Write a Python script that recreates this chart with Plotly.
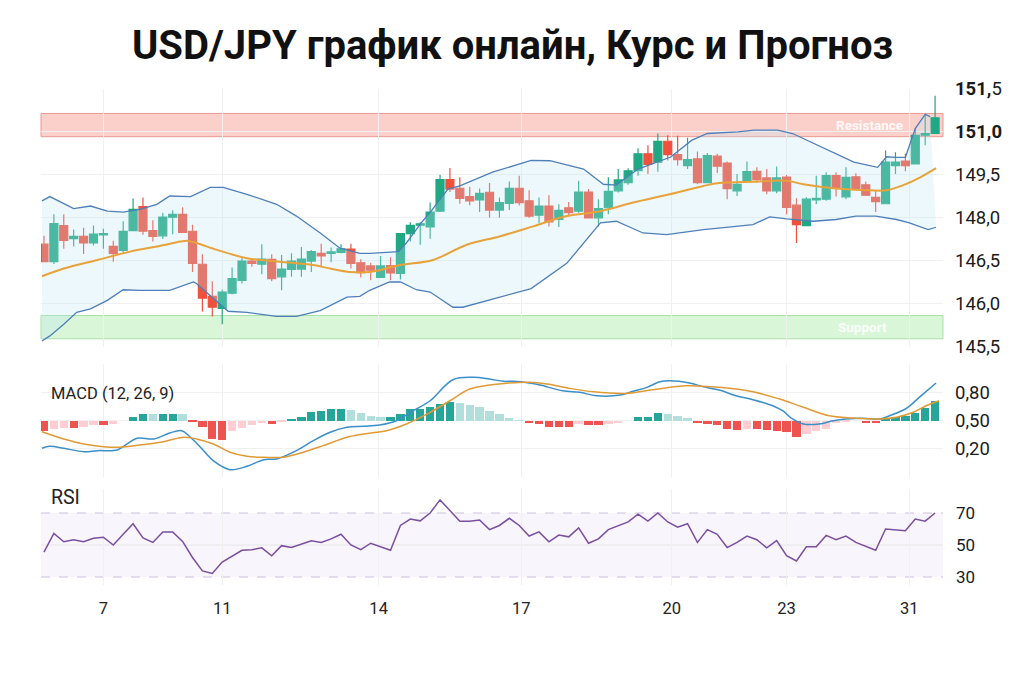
import plotly.graph_objects as go

TITLE = "USD/JPY график онлайн, Курс и Прогноз"

# ---------------- price candles (index 0..90) ----------------
opens = [147.07, 146.46, 147.72, 147.26, 147.34, 147.11, 147.39, 146.99, 146.85, 147.54,
         148.38, 147.54, 147.36, 148.01, 148.11, 147.52, 146.37, 145.25, 144.83, 145.36,
         145.81, 146.48, 146.37, 146.54, 145.93, 146.19, 146.20, 146.48, 146.75, 146.75,
         146.78, 146.90, 146.42, 146.31, 145.91, 146.32, 146.05, 147.44, 147.73, 147.67,
         148.22, 149.32, 149.02, 148.73, 148.61, 148.88, 148.26, 148.49, 149.02, 148.58,
         148.08, 148.40, 147.93, 148.34, 148.22, 148.89, 147.99, 148.34, 148.93, 149.22,
         149.63, 150.22, 149.93, 150.66, 150.19, 149.81, 150.05, 149.22, 150.14, 149.90,
         148.93, 149.26, 149.61, 149.38, 148.93, 149.41, 148.43, 147.72, 148.61, 148.64,
         149.46, 148.72, 149.42, 149.14, 148.70, 148.48, 149.81, 149.97, 149.87, 150.87,
         150.93]
highs = [147.36, 148.11, 148.11, 147.58, 147.64, 147.72, 147.61, 147.19, 147.87, 148.66,
         148.70, 147.90, 148.17, 148.25, 148.36, 147.75, 146.72, 145.78, 145.48, 146.26,
         146.60, 146.52, 147.07, 146.72, 146.69, 146.75, 146.97, 146.87, 147.08, 146.95,
         147.07, 147.08, 146.54, 146.42, 146.66, 146.61, 147.45, 147.83, 147.83, 148.52,
         149.49, 149.73, 149.40, 149.07, 149.01, 149.20, 148.70, 149.26, 149.46, 148.95,
         148.70, 148.78, 148.46, 148.54, 149.28, 148.99, 148.64, 149.40, 149.69, 149.72,
         150.42, 150.52, 150.93, 150.87, 150.85, 150.78, 150.30, 150.25, 150.22, 149.95,
         149.52, 149.95, 149.75, 149.69, 149.78, 149.48, 148.67, 148.71, 149.46, 149.58,
         149.58, 149.75, 149.54, 149.26, 148.95, 150.34, 150.28, 150.22, 151.11, 151.58,
         152.25]
lows = [146.44, 146.38, 146.91, 146.99, 146.73, 147.02, 146.91, 146.46, 146.78, 147.52,
        147.40, 147.16, 147.25, 147.42, 147.46, 146.10, 144.72, 144.55, 144.28, 145.31,
        145.70, 146.28, 146.02, 145.78, 145.46, 145.93, 145.93, 146.10, 146.28, 146.44,
        146.75, 146.22, 145.91, 145.81, 145.89, 145.81, 145.84, 147.16, 147.05, 147.26,
        148.19, 148.89, 148.48, 148.43, 148.19, 148.00, 147.99, 148.26, 148.42, 147.99,
        147.81, 147.69, 147.67, 148.05, 148.17, 147.97, 147.69, 148.11, 148.87, 149.14,
        149.46, 149.52, 149.60, 149.99, 149.81, 149.69, 149.16, 149.20, 149.55, 148.64,
        148.75, 149.24, 149.22, 148.81, 148.85, 148.11, 147.11, 147.70, 148.46, 148.58,
        148.73, 148.64, 148.95, 148.75, 148.19, 148.46, 149.52, 149.61, 149.85, 150.52,
        150.91]
closes = [146.46, 147.79, 147.20, 147.34, 147.11, 147.42, 147.44, 146.75, 147.52, 148.28,
          147.52, 147.34, 148.01, 148.11, 147.48, 146.40, 145.19, 144.87, 145.40, 145.87,
          146.48, 146.40, 146.55, 145.87, 146.20, 146.48, 146.55, 146.81, 146.66, 146.80,
          146.91, 146.40, 146.08, 146.16, 146.31, 146.07, 147.44, 147.73, 147.78, 148.19,
          149.32, 148.99, 148.67, 148.58, 148.84, 148.26, 148.52, 149.02, 148.52, 148.05,
          148.40, 147.85, 148.25, 148.17, 148.89, 147.99, 148.31, 148.91, 149.31, 149.63,
          150.22, 149.85, 150.66, 150.19, 150.02, 150.02, 149.22, 150.16, 149.79, 149.01,
          149.16, 149.60, 149.32, 148.93, 149.38, 148.35, 147.75, 148.64, 148.67, 149.46,
          149.05, 149.40, 149.01, 148.78, 148.55, 149.93, 149.93, 149.81, 150.87, 150.93,
          151.48]

# ---------------- Bollinger bands (index, price) ----------------
bb_up_idx = [-0.2, 0.6, 3.0, 4.7, 6.4, 8.0, 9.7, 11.4, 12.7, 14.8, 16.8, 18.1, 20.5, 23.5,
             25.5, 27.9, 29.9, 31.9, 32.9, 35.8, 36.6, 38.1, 39.1, 40.8, 42.0, 45.3, 49.2,
             51.1, 54.5, 56.5, 57.8, 60.0, 63.3, 65.4, 67.0, 70.1, 71.7, 74.1, 75.6, 78.3,
             81.8, 84.2, 85.1, 86.0, 87.0, 88.0, 89.0, 89.5]
bb_up = [148.58, 148.73, 148.31, 148.40, 148.22, 148.19, 148.28, 148.46, 148.75, 148.73,
         149.05, 149.05, 148.81, 148.46, 148.05, 147.46, 146.93, 146.75, 146.75, 146.81,
         147.11, 147.81, 148.22, 148.99, 149.10, 149.58, 149.99, 149.98, 149.69, 149.16,
         149.13, 149.69, 150.11, 150.69, 150.93, 150.99, 151.05, 151.05, 150.93, 150.50,
         149.93, 149.75, 150.12, 150.10, 150.10, 151.10, 151.60, 151.52]
bb_lo_idx = [-0.2, 0.6, 2.0, 3.3, 4.7, 6.4, 8.0, 9.7, 12.7, 15.1, 15.4, 18.6, 20.5, 23.5,
             25.5, 27.9, 30.6, 31.9, 32.9, 34.9, 36.0, 37.6, 39.0, 41.3, 42.3, 46.0, 49.2,
             52.8, 56.2, 57.8, 60.5, 62.9, 64.2, 66.6, 69.9, 71.6, 73.3, 75.0, 77.7, 80.0,
             82.0, 84.0, 86.1, 87.4, 89.3, 90.1]
bb_lo = [143.69, 143.87, 144.28, 144.69, 144.81, 145.11, 145.48, 145.46, 145.46, 145.75,
         145.70, 144.73, 144.69, 144.55, 144.55, 144.75, 145.22, 145.25, 145.46, 145.75,
         145.75, 145.48, 145.40, 144.87, 144.87, 145.22, 145.52, 146.40, 147.81, 147.87,
         147.46, 147.40, 147.46, 147.58, 147.69, 147.75, 148.02, 147.95, 147.87, 147.93,
         148.05, 148.05, 147.93, 147.81, 147.58, 147.66]
sma_idx = [-0.2, 2.0, 5.4, 8.7, 11.4, 13.8, 14.4, 15.4, 17.5, 20.5, 23.8, 27.2, 28.9, 30.9,
           32.9, 36.0, 39.3, 42.7, 46.0, 49.4, 52.8, 56.2, 59.5, 63.2, 66.6, 68.2, 71.6,
           75.0, 76.7, 80.0, 83.4, 85.1, 86.8, 88.5, 90.1]
sma = [145.95, 146.22, 146.52, 146.81, 146.99, 147.16, 147.19, 147.11, 146.87, 146.58,
       146.46, 146.34, 146.22, 146.10, 146.10, 146.34, 146.52, 147.05, 147.34, 147.69,
       148.05, 148.22, 148.52, 148.81, 149.10, 149.20, 149.25, 149.28, 149.16, 149.01,
       148.95, 148.95, 149.13, 149.40, 149.72]

resistance_zone = [150.82, 151.63]
support_zone = [143.77, 144.58]

# ---------------- MACD ----------------
macd_hist = [-0.113, -0.085, -0.077, -0.077, -0.071, -0.050, -0.050, -0.042, 0.0, 0.035,
             0.071, 0.064, 0.067, 0.071, 0.064, -0.014, -0.071, -0.201, -0.212, -0.113,
             -0.077, -0.053, -0.029, -0.032, -0.014, 0.021, 0.039, 0.092, 0.106, 0.117,
             0.120, 0.109, 0.082, 0.046, 0.035, 0.035, 0.071, 0.117, 0.127, 0.141,
             0.177, 0.194, 0.188, 0.162, 0.141, 0.106, 0.064, 0.029, 0.003, -0.027,
             -0.032, -0.071, -0.071, -0.071, -0.042, -0.053, -0.053, -0.035, -0.024, 0.0,
             0.039, 0.039, 0.082, 0.074, 0.053, 0.029, -0.030, -0.032, -0.053, -0.085,
             -0.103, -0.085, -0.095, -0.106, -0.113, -0.124, -0.173, -0.148, -0.113, -0.085,
             -0.024, -0.011, 0.0, -0.024, -0.024, 0.029, 0.039, 0.046, 0.082, 0.135,
             0.205]
macd_base = 0.5
macd_idx = [-0.2, 0.6, 2.0, 4.0, 5.4, 7.4, 8.4, 9.4, 11.1, 12.7, 13.9, 14.8, 15.8, 17.1,
            18.8, 20.5, 22.2, 23.5, 25.5, 27.2, 28.9, 30.6, 32.3, 33.9, 35.6, 37.3, 39.0,
            41.3, 43.4, 45.0, 46.4, 47.4, 49.0, 50.1, 52.4, 54.1, 55.8, 58.2, 59.5, 60.9,
            62.2, 63.2, 65.2, 66.6, 68.2, 69.9, 71.6, 73.6, 74.6, 75.6, 76.7, 78.3, 79.7,
            81.0, 82.7, 84.4, 85.4, 87.1, 88.4, 90.1]
macd_line = [0.205, 0.226, 0.205, 0.169, 0.180, 0.187, 0.251, 0.311, 0.304, 0.367, 0.392,
             0.322, 0.216, 0.074, -0.022, 0.014, 0.084, 0.092, 0.180, 0.286, 0.375, 0.428,
             0.438, 0.452, 0.498, 0.604, 0.710, 0.933, 0.958, 0.940, 0.916, 0.916, 0.898,
             0.876, 0.816, 0.799, 0.763, 0.770, 0.810, 0.852, 0.911, 0.922, 0.898, 0.858,
             0.823, 0.763, 0.721, 0.657, 0.604, 0.516, 0.463, 0.463, 0.498, 0.516, 0.523,
             0.516, 0.551, 0.629, 0.746, 0.898]
signal_idx = [-0.2, 2.0, 4.0, 6.0, 7.7, 9.7, 12.1, 14.1, 15.4, 17.1, 18.8, 20.5, 22.2,
              24.2, 26.2, 28.2, 30.6, 32.3, 34.6, 36.6, 39.0, 41.0, 43.0, 45.0, 47.0, 49.0,
              50.8, 53.1, 55.5, 58.8, 61.5, 64.9, 68.2, 71.6, 74.3, 76.7, 79.3, 81.7, 84.4,
              86.1, 87.8, 89.1, 90.4]
signal_line = [0.381, 0.304, 0.251, 0.222, 0.216, 0.240, 0.275, 0.322, 0.304, 0.251, 0.163,
               0.120, 0.110, 0.110, 0.163, 0.233, 0.322, 0.357, 0.392, 0.463, 0.587, 0.710,
               0.834, 0.876, 0.898, 0.905, 0.887, 0.841, 0.805, 0.788, 0.827, 0.869, 0.852,
               0.805, 0.728, 0.640, 0.551, 0.527, 0.516, 0.534, 0.587, 0.657, 0.710]

# ---------------- RSI ----------------
rsi_idx = [0, 1, 2, 3, 4, 5, 6, 7, 8, 9, 10, 11, 12, 13, 14, 15, 16, 17, 18, 20,
           21, 22, 23, 24, 25, 27, 28, 29, 30, 31, 32, 33, 35, 36, 37, 38, 39, 40, 41, 42,
           43, 44, 45, 46, 47, 48, 49, 50, 51, 52, 53, 54, 55, 56, 57, 58, 59, 60, 61, 62,
           63, 64, 65, 66, 67, 68, 69, 70, 71, 72, 73, 74, 75, 76, 77, 78, 79, 80, 81, 82,
           83, 84, 85, 86, 87, 88, 89, 90]
rsi = [45.6, 57.3, 52.0, 53.3, 52.0, 54.2, 54.9, 50.0, 56.7, 63.3, 54.4, 51.6, 58.2, 58.2,
       52.2, 42.2, 33.8, 32.2, 39.3, 46.7, 47.1, 48.2, 43.3, 49.6, 48.4, 52.7, 51.6, 53.8,
       56.7, 50.0, 47.1, 51.1, 46.7, 62.2, 66.2, 65.1, 70.0, 78.2, 71.6, 64.9, 64.9, 65.6,
       59.6, 62.2, 66.7, 62.2, 55.6, 58.2, 52.0, 56.2, 55.1, 60.7, 51.1, 53.8, 59.6, 62.2,
       64.4, 69.3, 64.9, 70.0, 64.4, 61.1, 63.3, 51.6, 59.6, 56.7, 48.4, 51.6, 55.6, 53.3,
       48.2, 52.7, 43.3, 40.0, 48.9, 48.9, 56.0, 53.3, 55.6, 51.6, 49.3, 46.7, 60.0, 59.6,
       58.9, 66.2, 64.9, 70.0]

# ---------------- axes labels ----------------
x_tick_idx = [6, 18, 33.8, 48.2, 63.4, 75, 87.4]
x_tick_text = ["7", "11", "14", "17", "20", "23", "31"]
price_tick_vals = [152.5, 151.0, 149.5, 148.0, 146.5, 145.0, 143.5]
price_tick_text = ["<b>151,</b>5", "<b>151,0</b>", "149,5", "148,0", "146,5", "146,0", "145,5"]
macd_tick_vals = [-0.1, 0.2, 0.5, 0.8, 1.1]
macd_tick_text = ["", "0,20", "0,50", "0,80", ""]
rsi_tick_vals = [30, 50, 70]
rsi_tick_text = ["30", "50", "70"]

# ---------------- styling ----------------
W, H = 1024, 683
FONT = "Roboto"
UP, DOWN = "#1fa883", "#f0503c"
BAND, MID = "#4f7fb8", "#e8a23a"
GRID = "#f0f0f0"
XL, XR = 41 / W, 943 / W
XRANGE = [-0.3, 90.8]


def dom(top_px, bot_px):
    return [1 - bot_px / H, 1 - top_px / H]


# histogram colours (TradingView style)
hist_colors = []
prev = 0.0
for v in macd_hist:
    if v >= 0:
        hist_colors.append("#26a69a" if v >= prev else "#b2dfdb")
    else:
        hist_colors.append("#ef5350" if v <= prev else "#ffcdd2")
    prev = v

fig = go.Figure()

fig.add_trace(go.Scatter(x=bb_up_idx, y=bb_up, mode="lines",
                         line=dict(color=BAND, width=1.3), hoverinfo="skip",
                         xaxis="x", yaxis="y", showlegend=False))
fig.add_trace(go.Scatter(x=bb_lo_idx, y=bb_lo, mode="lines",
                         line=dict(color=BAND, width=1.3), fill="tonexty",
                         fillcolor="rgba(190,230,245,0.28)", hoverinfo="skip",
                         xaxis="x", yaxis="y", showlegend=False))
fig.add_trace(go.Scatter(x=sma_idx, y=sma, mode="lines", line=dict(color=MID, width=2),
                         line_shape="spline", hoverinfo="skip",
                         xaxis="x", yaxis="y", showlegend=False))
fig.add_trace(go.Candlestick(x=list(range(len(opens))), open=opens, high=highs, low=lows,
                             close=closes, whiskerwidth=0,
                             increasing=dict(line=dict(color=UP, width=1.2), fillcolor=UP),
                             decreasing=dict(line=dict(color=DOWN, width=1.2), fillcolor=DOWN),
                             xaxis="x", yaxis="y", showlegend=False))

fig.add_trace(go.Bar(x=list(range(len(macd_hist))), y=macd_hist, base=macd_base,
                     marker=dict(color=hist_colors, line=dict(width=0)), width=0.84,
                     xaxis="x2", yaxis="y2", showlegend=False))
fig.add_trace(go.Scatter(x=macd_idx, y=macd_line, mode="lines", line_shape="spline",
                         line=dict(color="#3b8fc9", width=1.5),
                         xaxis="x2", yaxis="y2", showlegend=False))
fig.add_trace(go.Scatter(x=signal_idx, y=signal_line, mode="lines", line_shape="spline",
                         line=dict(color="#e09a35", width=1.5),
                         xaxis="x2", yaxis="y2", showlegend=False))

fig.add_trace(go.Scatter(x=rsi_idx, y=rsi, mode="lines",
                         line=dict(color="#7a4f9e", width=1.5),
                         xaxis="x3", yaxis="y3", showlegend=False))

xcommon = dict(range=XRANGE, domain=[XL, XR], tickvals=x_tick_idx, ticktext=x_tick_text,
               showgrid=True, gridcolor=GRID, gridwidth=1, zeroline=False,
               showline=False, ticks="", fixedrange=True)
ycommon = dict(side="right", showgrid=True, gridcolor=GRID, gridwidth=1, zeroline=False,
               showline=False, ticks="", automargin=False, ticklabelstandoff=11,
               tickfont=dict(family=FONT, size=18.5, color="#1a1a1a"))

fig.update_layout(
    width=W, height=H,
    margin=dict(l=0, r=0, t=0, b=0),
    paper_bgcolor="white", plot_bgcolor="white",
    font=dict(family=FONT, color="#1a1a1a"),
    showlegend=False,
    bargap=0,
    boxgap=0.1, boxgroupgap=0.1,
    xaxis=dict(**xcommon, anchor="y", showticklabels=False, rangeslider=dict(visible=False)),
    xaxis2=dict(**xcommon, anchor="y2", showticklabels=False, matches="x"),
    xaxis3=dict(**xcommon, anchor="y3", showticklabels=True, matches="x",
                tickfont=dict(family=FONT, size=16.5, color="#222"), ticklabelstandoff=11),
    yaxis=dict(**ycommon, domain=dom(88.5, 346.5), range=[143.5, 152.5],
               tickvals=price_tick_vals, ticktext=price_tick_text),
    yaxis2=dict(**ycommon, domain=dom(364, 477), range=[-0.1, 1.1],
                tickvals=macd_tick_vals, ticktext=macd_tick_text),
    yaxis3=dict(side="right", showgrid=False, zeroline=False, showline=False, ticks="",
                automargin=False, ticklabelstandoff=12,
                tickfont=dict(family=FONT, size=17, color="#1a1a1a"),
                domain=dom(489, 585), range=[25, 85],
                tickvals=rsi_tick_vals, ticktext=rsi_tick_text),
)

shapes = [
    dict(type="rect", xref="x domain", yref="y", x0=0, x1=1,
         y0=resistance_zone[0], y1=resistance_zone[1],
         fillcolor="#fbd0cb", line=dict(color="#e99a92", width=1), layer="below"),
    dict(type="rect", xref="x domain", yref="y", x0=0, x1=1,
         y0=support_zone[0], y1=support_zone[1],
         fillcolor="#d9f6d9", line=dict(color="#a9dfa9", width=1), layer="below"),
    dict(type="rect", xref="x3 domain", yref="y3", x0=0, x1=1, y0=30, y1=70,
         fillcolor="rgba(150,110,210,0.07)", line=dict(width=0), layer="below"),
    dict(type="line", xref="x3 domain", yref="y3", x0=0, x1=1, y0=70, y1=70,
         line=dict(color="#cdbfdc", width=1, dash="dash"), layer="below"),
    dict(type="line", xref="x3 domain", yref="y3", x0=0, x1=1, y0=30, y1=30,
         line=dict(color="#cdbfdc", width=1, dash="dash"), layer="below"),
    dict(type="line", xref="x3 domain", yref="y3", x0=0, x1=1, y0=50, y1=50,
         line=dict(color="#e6e6e6", width=1), layer="below"),
]
fig.update_layout(shapes=shapes)

annotations = [
    dict(text="<b>" + TITLE + "</b>", xref="paper", yref="paper", x=0.5, y=1 - 45 / H,
         xanchor="center", yanchor="middle", showarrow=False,
         font=dict(family=FONT, size=40, color="#111")),
    dict(text="<b>Resistance</b>", xref="x", yref="y", x=83.4,
         y=sum(resistance_zone) / 2, showarrow=False,
         font=dict(family=FONT, size=13.5, color="rgba(255,255,255,0.9)")),
    dict(text="<b>Support</b>", xref="x", yref="y", x=82.7,
         y=sum(support_zone) / 2, showarrow=False,
         font=dict(family=FONT, size=13.5, color="rgba(255,255,255,0.9)")),
    dict(text="MACD (12, 26, 9)", xref="paper", yref="paper", x=49 / W, y=1 - 393 / H,
         xanchor="left", yanchor="middle", showarrow=False,
         font=dict(family=FONT, size=16.5, color="#222")),
    dict(text="RSI", xref="paper", yref="paper", x=49 / W, y=1 - 497 / H,
         xanchor="left", yanchor="middle", showarrow=False,
         font=dict(family=FONT, size=19.5, color="#222")),
]
fig.update_layout(annotations=annotations)

fig.write_html("out.html", config={"displayModeBar": False})
